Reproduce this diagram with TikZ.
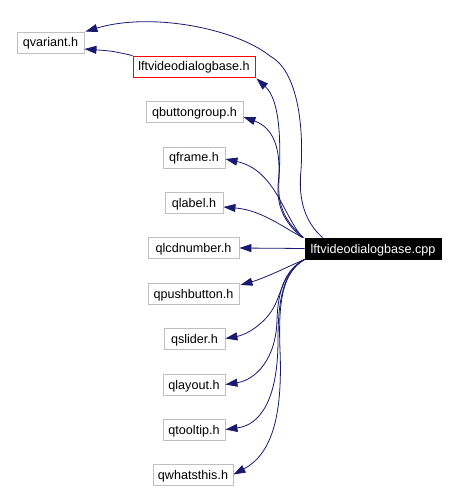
\documentclass[tikz,border=0pt]{standalone}
\usepackage{fontspec}
\setmainfont{Liberation Sans}
\usetikzlibrary{arrows.meta}
\definecolor{edgeblue}{HTML}{191970}
\definecolor{boxgray}{HTML}{BFBFBF}
\tikzset{
  file/.style={draw=boxgray, line width=0.9bp, inner sep=0pt, minimum height=21bp,
    text height=10.5bp, text depth=1.5bp,
    font=\fontsize{12.6bp}{14bp}\selectfont, text=black, anchor=center},
  mainfile/.style={file, draw=red},
  cppfile/.style={file, draw=black, fill=black, text=white},
  edge/.style={draw=edgeblue, line width=0.8bp,
    -{Triangle[length=12bp,width=8bp]}, color=edgeblue},
}
\begin{document}
\begin{tikzpicture}[x=1bp,y=-1bp]
\useasboundingbox (0,0) rectangle (457,492);
\node[file, minimum width=67bp] (qvariant) at (50.5,42.5) {qvariant.h};
\node[mainfile, minimum width=122bp] (hbase) at (194,66.5) {lftvideodialogbase.h};
\node[file, minimum width=97bp] (qbuttongroup) at (194.5,112) {qbuttongroup.h};
\node[file, minimum width=62bp] (qframe) at (194,157.5) {qframe.h};
\node[file, minimum width=58bp] (qlabel) at (194,202.5) {qlabel.h};
\node[file, minimum width=91bp] (qlcdnumber) at (193.5,248) {qlcdnumber.h};
\node[cppfile, minimum width=136bp] (cpp) at (373,248.5) {lftvideodialogbase.cpp};
\node[file, minimum width=91bp] (qpushbutton) at (193.5,293.5) {qpushbutton.h};
\node[file, minimum width=61bp] (qslider) at (194.5,338.5) {qslider.h};
\node[file, minimum width=62bp] (qlayout) at (194,384.5) {qlayout.h};
\node[file, minimum width=62bp] (qtooltip) at (194,429.5) {qtooltip.h};
\node[file, minimum width=80bp] (qwhatsthis) at (193,474.5) {qwhatsthis.h};

% cpp -> qvariant.h
\draw[edge] ([xshift=18bp]cpp.north west) .. controls (305,222) and (298,200) .. (301,170)
  .. controls (304,120) and (296,70) .. (270,56)
  .. controls (235,28) and (150,12) .. ([xshift=1bp]qvariant.north east);
% lftvideodialogbase.h -> qvariant.h
\draw[edge] (hbase.north west) .. controls (112,51) .. ([yshift=-6.5bp]qvariant.east);
% cpp -> lftvideodialogbase.h
\draw[edge] ([xshift=-1bp]cpp.north west) .. controls (285,222) and (277,205) .. (279,180)
  .. controls (281,140) and (280,100) .. ([xshift=1bp,yshift=-1bp]hbase.south east);
% cpp -> qbuttongroup.h
\draw[edge] ([xshift=-2bp]cpp.north west) .. controls (283,222) and (277,205) .. (278,185)
  .. controls (282,150) and (274,128) .. ([yshift=-5bp]qbuttongroup.east);
% cpp -> qframe.h
\draw[edge] ([xshift=-2bp]cpp.north west) .. controls (283,215) and (275,170) .. ([yshift=-1.5bp]qframe.east);
% cpp -> qlabel.h
\draw[edge] ([xshift=-2bp]cpp.north west) .. controls (280,225) and (260,210) .. ([yshift=-4.5bp]qlabel.east);
% cpp -> qlcdnumber.h
\draw[edge] (cpp.west) -- (qlcdnumber.east);
% cpp -> qpushbutton.h
\draw[edge] (cpp.south west) .. controls (285,268) and (265,278) .. ([xshift=1bp,yshift=8.5bp]qpushbutton.east);
% cpp -> qslider.h
\draw[edge] (cpp.south west) .. controls (285,270) and (282,290) .. (275,305)
  .. controls (265,325) and (245,335) .. (qslider.east);
% cpp -> qlayout.h
\draw[edge] (cpp.south west) .. controls (285,270) and (278,290) .. (277,320)
  .. controls (276,360) and (255,380) .. (qlayout.east);
% cpp -> qtooltip.h
\draw[edge] (cpp.south west) .. controls (283,272) and (278,300) .. (278,340)
  .. controls (278,400) and (260,425) .. (qtooltip.east);
% cpp -> qwhatsthis.h
\draw[edge] (cpp.south west) .. controls (283,272) and (278,300) .. (280,350)
  .. controls (283,420) and (270,455) .. (qwhatsthis.east);
\end{tikzpicture}
\end{document}
